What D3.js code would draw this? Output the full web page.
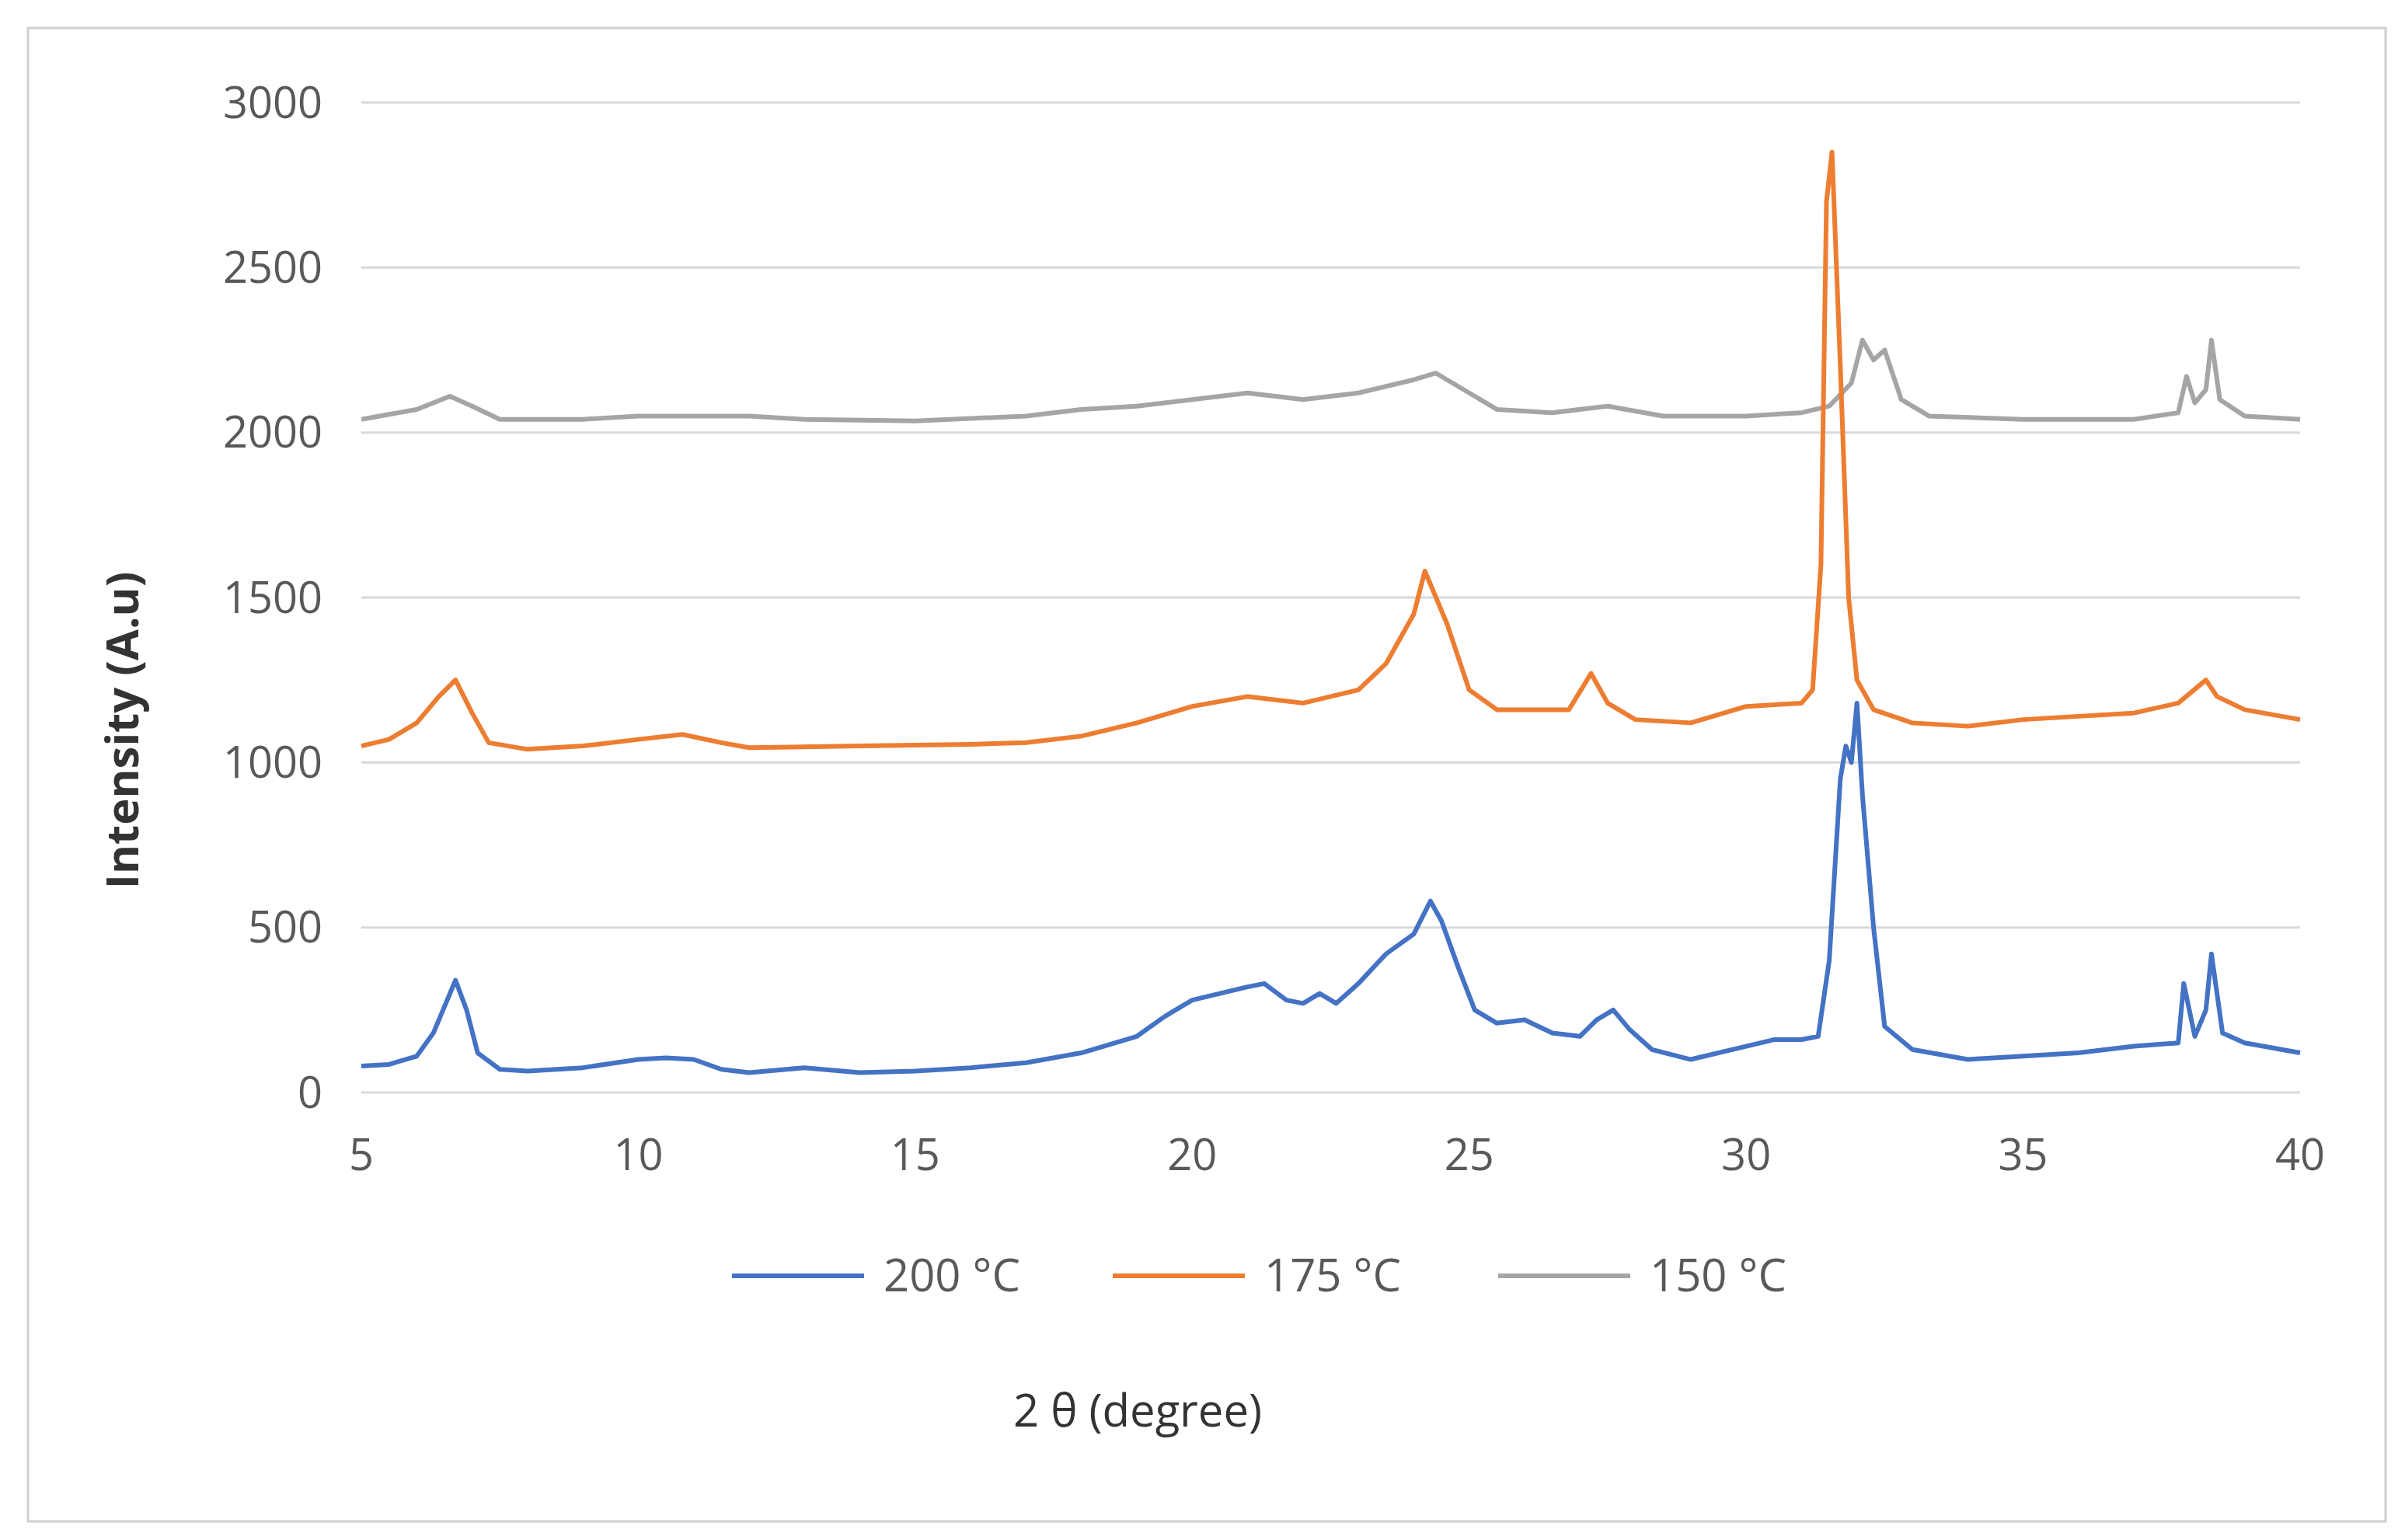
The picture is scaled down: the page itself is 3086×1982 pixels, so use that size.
<!DOCTYPE html><html><head><meta charset="utf-8">
<script src="https://cdn.jsdelivr.net/npm/d3@7"></script>
<style>body{margin:0;background:#fff}</style></head><body>
<svg id="c" width="3086" height="1982"></svg>
<script>
const seriesNames=["200 °C","175 °C","150 °C"];
const colors=["#4472C4","#ED7D31","#A5A5A5"];
const yTicks=[0,500,1000,1500,2000,2500,3000];
const xTicks=[5,10,15,20,25,30,35,40];
const s200=[[5,80],[5.5,85],[6,110],[6.3,180],[6.6,300],[6.7,340],[6.9,250],[7.1,120],[7.5,70],[8,65],[9,75],[10,100],[10.5,105],[11,100],[11.5,70],[12,60],[13,75],[14,60],[15,65],[16,75],[17,90],[18,120],[19,170],[19.5,230],[20,280],[20.5,300],[21,320],[21.3,330],[21.7,280],[22,270],[22.3,300],[22.6,270],[23,330],[23.5,420],[24,480],[24.3,580],[24.5,520],[24.8,380],[25.1,250],[25.5,210],[26,220],[26.5,180],[27,170],[27.3,220],[27.6,250],[27.9,190],[28.3,130],[29,100],[30,140],[30.5,160],[31,160],[31.3,170],[31.5,400],[31.7,950],[31.8,1050],[31.9,1000],[32,1180],[32.1,900],[32.3,500],[32.5,200],[33,130],[34,100],[35,110],[36,120],[37,140],[37.8,150],[37.9,330],[38.1,170],[38.3,250],[38.4,420],[38.6,180],[39,150],[40,120]];
const s175=[[5,1050],[5.5,1070],[6,1120],[6.4,1200],[6.7,1250],[7,1150],[7.3,1060],[8,1040],[9,1050],[10,1070],[10.8,1085],[11.5,1060],[12,1045],[14,1050],[16,1055],[17,1060],[18,1080],[19,1120],[20,1170],[21,1200],[22,1180],[23,1220],[23.5,1300],[24,1450],[24.2,1580],[24.6,1420],[25,1220],[25.5,1160],[26,1160],[26.8,1160],[27.2,1270],[27.5,1180],[28,1130],[29,1120],[30,1170],[31,1180],[31.2,1220],[31.35,1600],[31.45,2700],[31.55,2850],[31.7,2200],[31.85,1500],[32,1250],[32.3,1160],[33,1120],[34,1110],[35,1130],[36,1140],[37,1150],[37.8,1180],[38.3,1250],[38.5,1200],[39,1160],[40,1130]];
const s150=[[5,2040],[6,2070],[6.6,2110],[7,2080],[7.5,2040],[9,2040],[10,2050],[12,2050],[13,2040],[15,2035],[17,2050],[18,2070],[19,2080],[20,2100],[21,2120],[22,2100],[23,2120],[24,2160],[24.4,2180],[25,2120],[25.5,2070],[26.5,2060],[27.5,2080],[28.5,2050],[30,2050],[31,2060],[31.5,2080],[31.9,2150],[32.1,2280],[32.3,2220],[32.5,2250],[32.8,2100],[33.3,2050],[35,2040],[37,2040],[37.8,2060],[37.95,2170],[38.1,2090],[38.3,2130],[38.4,2280],[38.55,2100],[39,2050],[40,2040]];
const allSeries=[s200,s175,s150];
const svg=d3.select("#c");
svg.append("rect").attr("x",36).attr("y",36).attr("width",3034).attr("height",1922).attr("fill","#fff").attr("stroke","#d0d0d0").attr("stroke-width",3);
const x=d3.scaleLinear().domain([5,40]).range([465,2960]);
const y=d3.scaleLinear().domain([0,3000]).range([1406,132]);
const tc="#595959",ff="Open Sans, sans-serif";
svg.append("g").selectAll("line").data(yTicks).join("line").attr("x1",x(5)).attr("x2",x(40)).attr("y1",d=>y(d)).attr("y2",d=>y(d)).attr("stroke","#d9d9d9").attr("stroke-width",3);
svg.append("g").selectAll("text").data(yTicks).join("text").attr("x",x(5)-50).attr("y",d=>y(d)).attr("dy","0.35em").attr("text-anchor","end").attr("font-size",56).attr("font-family",ff).attr("fill",tc).text(d=>d);
svg.append("g").selectAll("text").data(xTicks).join("text").attr("x",d=>x(d)).attr("y",y(0)+100).attr("text-anchor","middle").attr("font-size",56).attr("font-family",ff).attr("fill",tc).text(d=>d);
const line=d3.line().x(d=>x(d[0])).y(d=>y(d[1]));
[2,1,0].forEach(i=>svg.append("path").attr("d",line(allSeries[i])).attr("fill","none").attr("stroke",colors[i]).attr("stroke-width",6).attr("stroke-linejoin","round"));
const lx=[942,1432,1928];
seriesNames.forEach((n,i)=>{
 svg.append("line").attr("x1",lx[i]).attr("x2",lx[i]+170).attr("y1",1642).attr("y2",1642).attr("stroke",colors[i]).attr("stroke-width",6);
 svg.append("text").attr("x",lx[i]+195).attr("y",1642).attr("dy","0.35em").attr("font-size",58).attr("font-family",ff).attr("fill",tc).text(n);
});
svg.append("text").attr("x",1464).attr("y",1816).attr("dy","0.35em").attr("text-anchor","middle").attr("font-size",58).attr("font-family",ff).attr("fill","#333").text("2 θ (degree)");
svg.append("text").attr("transform","translate(158,940) rotate(-90)").attr("dy","0.35em").attr("text-anchor","middle").attr("font-size",58).attr("font-weight","bold").attr("font-family",ff).attr("fill","#333").text("Intensity (A.u)");
</script></body></html>
